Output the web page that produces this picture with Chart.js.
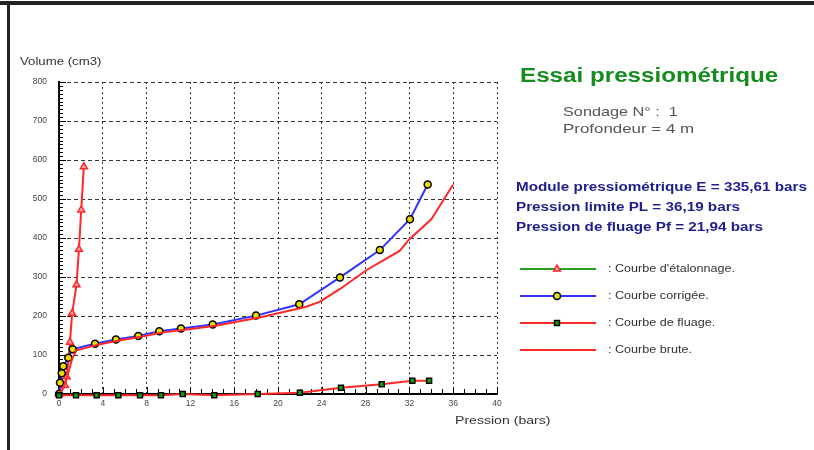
<!DOCTYPE html>
<html>
<head>
<meta charset="utf-8">
<script src="https://cdn.jsdelivr.net/npm/chart.js@4/dist/chart.umd.min.js"></script>
<style>
  html, body { margin: 0; padding: 0; background: #fff; }
  #wrap { position: relative; width: 814px; height: 450px; overflow: hidden; }
  #bordHaut { position: absolute; left: 0; top: 1px; width: 814px; height: 4px; background: #222; }
  #bordGauche { position: absolute; left: 7px; top: 1px; width: 3px; height: 449px; background: #222; }
  canvas { position: absolute; left: 0; top: 0; }
</style>
</head>
<body>
<div id="wrap">
  <canvas id="pressio" width="814" height="450"></canvas>
  <div id="bordHaut"></div>
  <div id="bordGauche"></div>
</div>
<script>
// Essai pressiometrique - courbes
var etalonnageP = [0, 0.55, 0.7, 1.0, 1.2, 1.6, 1.82, 2.03, 2.27];
var etalonnageV = [0, 22, 44, 133, 207, 280, 371, 472, 583];

var corrigeeP = [0, 0.09, 0.25, 0.39, 0.85, 1.25, 3.29, 5.2, 7.24, 9.16, 11.14, 14.04, 17.99, 21.94, 25.66, 29.3, 32.05, 33.67];
var corrigeeV = [0, 29, 53, 71, 93, 115, 129, 140, 149, 161, 168, 178, 201, 230, 299, 369, 448, 537];

var fluageP = [0, 1.55, 3.44, 5.42, 7.4, 9.31, 11.3, 14.18, 18.15, 22.0, 25.75, 29.47, 32.27, 33.8];
var fluageV = [-3, -3, -3, -3, -3, -3, 0, -3, 0, 3, 16, 25, 34, 34];

var bruteP = [0, 0.4, 0.8, 1.2, 1.6, 3.5, 5.5, 7.5, 9.5, 11.5, 14.3, 18.3, 22.5, 23.8, 25.7, 28.1, 31.1, 32, 34, 36];
var bruteV = [0, 15, 50, 90, 112, 126, 137, 147, 158, 165, 175, 196, 223, 236, 270, 318, 367, 397, 448, 537];

var xTicks = [0, 4, 8, 12, 16, 20, 24, 28, 32, 36, 40];
var yTicks = [0, 100, 200, 300, 400, 500, 600, 700, 800];

var titre = "Essai pressiométrique";
var infos = ["Sondage N° :  1", "Profondeur = 4 m"];
var resultats = ["Module pressiométrique E = 335,61 bars", "Pression limite PL = 36,19 bars", "Pression de fluage Pf = 21,94 bars"];
var noms = [": Courbe d'étalonnage.", ": Courbe corrigée.", ": Courbe de fluage.", ": Courbe brute."];

var FONT = '"Liberation Sans", Arial, sans-serif';
var ROUGE = "rgb(255,40,40)";
var BLEU = "rgb(50,50,255)";
var ETIRE = 1.27; // le texte de l'original est elargi

function points(px, py) {
    var out = [];
    for (var i = 0; i < px.length; i++) out.push({x: px[i], y: py[i]});
    return out;
}

function texteLarge(ctx, txt, x, y, f) {
    ctx.save();
    ctx.translate(x, y);
    ctx.scale(f || ETIRE, 1);
    ctx.fillText(txt, 0, 0);
    ctx.restore();
}

// petites graduations vers l'interieur + titres d'axes
var graduations = {
    id: 'graduations',
    beforeDatasetsDraw: function(chart) {
        var ctx = chart.ctx, sx = chart.scales.x, sy = chart.scales.y;
        var a = chart.chartArea;
        ctx.save();
        ctx.strokeStyle = "#000";
        ctx.lineWidth = 1;
        ctx.beginPath();
        for (var v = 0; v <= 800; v += 10) {
            var y = Math.round(sy.getPixelForValue(v)) + 0.5;
            var l = (v % 100 === 0) ? 7 : 4;
            ctx.moveTo(a.left, y); ctx.lineTo(a.left + l, y);
        }
        for (var p = 0; p <= 40; p += 1) {
            var x = Math.round(sx.getPixelForValue(p)) + 0.5;
            var h = (p % 4 === 0) ? 7 : 5;
            ctx.moveTo(x, a.bottom); ctx.lineTo(x, a.bottom - h);
        }
        ctx.stroke();
        ctx.restore();
    },
    afterDraw: function(chart) {
        var ctx = chart.ctx;
        ctx.save();
        ctx.fillStyle = "#333";
        ctx.font = "11px " + FONT;
        ctx.textBaseline = "middle";
        texteLarge(ctx, "Volume (cm3)", 20, 62, 1.2);
        texteLarge(ctx, "Pression (bars)", 455, 421, 1.28);
        ctx.restore();
    }
};

// bloc de droite : titre, resultats, legende
var panneau = {
    id: 'panneau',
    afterDraw: function(chart) {
        var ctx = chart.ctx;
        ctx.save();
        ctx.textBaseline = "middle";
        ctx.fillStyle = "rgb(20,140,30)";
        ctx.font = "bold 20px " + FONT;
        texteLarge(ctx, titre, 520, 76, 1.21);

        ctx.fillStyle = "#555";
        ctx.font = "13px " + FONT;
        texteLarge(ctx, infos[0], 563, 112, 1.25);
        texteLarge(ctx, infos[1], 563, 129, 1.3);

        ctx.fillStyle = "rgb(30,30,140)";
        ctx.font = "bold 12px " + FONT;
        for (var i = 0; i < resultats.length; i++) {
            texteLarge(ctx, resultats[i], 516, 188 + i * 20, 1.27);
        }

        var ds = chart.data.datasets;
        var lignes = [
            {couleur: "rgb(40,160,40)", d: ds[3]},
            {couleur: BLEU, d: ds[2]},
            {couleur: ROUGE, d: ds[0]},
            {couleur: ROUGE, d: null}
        ];
        for (var k = 0; k < lignes.length; k++) {
            var y = 269 + k * 27;
            ctx.strokeStyle = lignes[k].couleur;
            ctx.lineWidth = 2;
            ctx.beginPath();
            ctx.moveTo(520, y); ctx.lineTo(596, y);
            ctx.stroke();
            var d = lignes[k].d;
            if (d) {
                ctx.fillStyle = d.pointBackgroundColor;
                ctx.strokeStyle = d.pointBorderColor;
                ctx.lineWidth = d.pointBorderWidth;
                Chart.helpers.drawPoint(ctx, {pointStyle: d.pointStyle, radius: d.pointRadius, borderWidth: d.pointBorderWidth, rotation: 0}, 557, y);
            }
            ctx.fillStyle = "#333";
            ctx.font = "10px " + FONT;
            texteLarge(ctx, noms[k], 608, y, 1.26);
        }
        ctx.restore();
    }
};

var ctx = document.getElementById("pressio");

var config = {
    type: 'scatter',
    data: {
        datasets: [{
            label: "Courbe de fluage",
            data: points(fluageP, fluageV),
            showLine: true,
            borderColor: ROUGE,
            borderWidth: 2,
            pointStyle: 'rect',
            pointRadius: 3.5,
            pointBackgroundColor: "rgb(0,170,0)",
            pointBorderColor: "#000",
            pointBorderWidth: 1.5,
            clip: false
        }, {
            label: "Courbe brute",
            data: points(bruteP, bruteV),
            showLine: true,
            borderColor: ROUGE,
            borderWidth: 2,
            pointRadius: 0,
            clip: false
        }, {
            label: "Courbe corrigée",
            data: points(corrigeeP, corrigeeV),
            showLine: true,
            borderColor: BLEU,
            borderWidth: 2,
            pointStyle: 'circle',
            pointRadius: 3.5,
            pointBackgroundColor: "rgb(230,220,0)",
            pointBorderColor: "#000",
            pointBorderWidth: 1.5,
            clip: false
        }, {
            label: "Courbe d'étalonnage",
            data: points(etalonnageP, etalonnageV),
            showLine: true,
            borderColor: ROUGE,
            borderWidth: 2,
            pointStyle: 'triangle',
            pointRadius: 4,
            pointBackgroundColor: "rgb(255,170,170)",
            pointBorderColor: ROUGE,
            pointBorderWidth: 1.5,
            clip: false
        }]
    },
    options: {
        responsive: false,
        animation: false,
        layout: { padding: { left: 0, right: 317, top: 82, bottom: 36 } },
        plugins: { legend: { display: false }, tooltip: { enabled: false } },
        scales: {
            x: {
                type: 'linear',
                min: 0, max: 40,
                afterBuildTicks: function(s) { s.ticks = xTicks.map(function(v) { return {value: v}; }); },
                afterFit: function(s) { s.height = 20; },
                ticks: { color: "#444", font: { size: 8.5, family: FONT }, padding: 5 },
                grid: { color: "#333", lineWidth: 1, drawTicks: false },
                border: { display: true, color: "#000", width: 2, dash: [2, 3] }
            },
            y: {
                type: 'linear',
                min: 0, max: 800,
                afterBuildTicks: function(s) { s.ticks = yTicks.map(function(v) { return {value: v}; }); },
                afterFit: function(s) { s.width = 59; },
                ticks: { color: "#444", font: { size: 8.5, family: FONT }, padding: 12 },
                grid: { color: "#333", lineWidth: 1, drawTicks: false },
                border: { display: true, color: "#000", width: 2, dash: [4, 3] }
            }
        }
    },
    plugins: [graduations, panneau]
};

var graphe = new Chart(ctx, config);
</script>
</body>
</html>
